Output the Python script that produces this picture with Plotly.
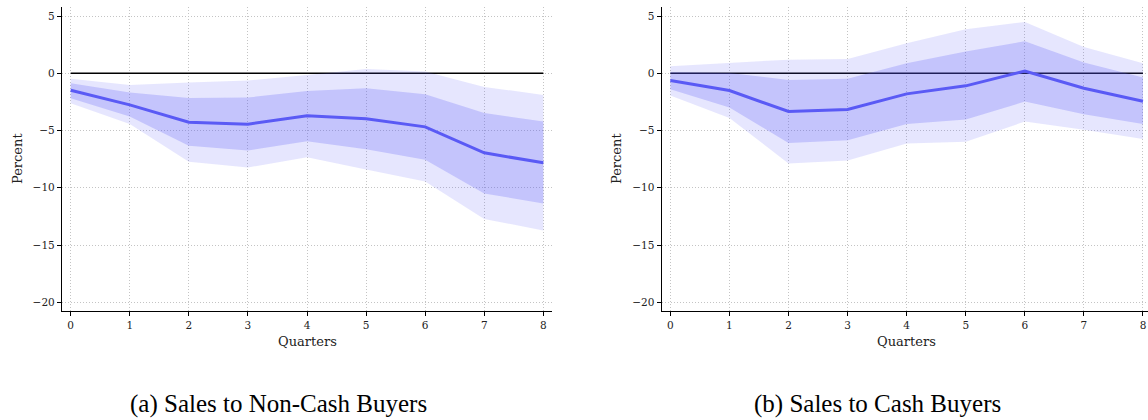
import plotly.graph_objects as go

quarters = [0, 1, 2, 3, 4, 5, 6, 7, 8]

# Panel (a): Sales to Non-Cash Buyers
a_mid = [-1.48, -2.76, -4.27, -4.45, -3.72, -3.98, -4.68, -6.95, -7.82]
a_in_hi = [-0.87, -1.69, -2.15, -2.12, -1.54, -1.31, -1.83, -3.46, -4.22]
a_in_lo = [-2.18, -3.78, -6.34, -6.74, -5.93, -6.63, -7.56, -10.49, -11.37]
a_out_hi = [-0.49, -1.02, -0.81, -0.64, -0.15, 0.38, 0.15, -1.19, -1.89]
a_out_lo = [-2.62, -4.42, -7.73, -8.23, -7.33, -8.40, -9.45, -12.73, -13.72]

# Panel (b): Sales to Cash Buyers
b_mid = [-0.64, -1.51, -3.34, -3.17, -1.80, -1.10, 0.20, -1.31, -2.44]
b_in_hi = [0.12, 0.03, -0.58, -0.47, 0.87, 1.89, 2.79, 0.93, -0.38]
b_in_lo = [-1.40, -2.99, -6.10, -5.84, -4.42, -4.04, -2.47, -3.58, -4.42]
b_out_hi = [0.61, 0.87, 1.19, 1.25, 2.62, 3.84, 4.48, 2.30, 0.87]
b_out_lo = [-1.95, -3.90, -7.88, -7.62, -6.13, -5.99, -4.22, -4.94, -5.73]

y_ticks = [5, 0, -5, -10, -15, -20]
captions = ["(a) Sales to Non-Cash Buyers", "(b) Sales to Cash Buyers"]

OUTER = "rgba(90,90,245,0.15)"
INNER = "rgba(90,90,245,0.245)"
LINE = "rgb(90,90,245)"
FONT = "DejaVu Serif"

fig = go.Figure()

panels = [
    (a_mid, a_in_hi, a_in_lo, a_out_hi, a_out_lo, "x", "y"),
    (b_mid, b_in_hi, b_in_lo, b_out_hi, b_out_lo, "x2", "y2"),
]

for mid, ihi, ilo, ohi, olo, xa, ya in panels:
    zero = [0 for _ in quarters]
    fig.add_trace(go.Scatter(x=quarters, y=zero, mode="lines",
                             line=dict(color="black", width=1.4),
                             xaxis=xa, yaxis=ya, showlegend=False, hoverinfo="skip"))
    # outer band
    fig.add_trace(go.Scatter(x=quarters + quarters[::-1], y=ohi + olo[::-1],
                             fill="toself", fillcolor=OUTER, mode="lines",
                             line=dict(width=0), xaxis=xa, yaxis=ya,
                             showlegend=False, hoverinfo="skip"))
    # inner band
    fig.add_trace(go.Scatter(x=quarters + quarters[::-1], y=ihi + ilo[::-1],
                             fill="toself", fillcolor=INNER, mode="lines",
                             line=dict(width=0), xaxis=xa, yaxis=ya,
                             showlegend=False, hoverinfo="skip"))
    fig.add_trace(go.Scatter(x=quarters, y=mid, mode="lines",
                             line=dict(color=LINE, width=3),
                             xaxis=xa, yaxis=ya, showlegend=False))

axis_common = dict(
    showline=True, linecolor="black", linewidth=1.3,
    ticks="outside", ticklen=4, tickcolor="black", tickwidth=1,
    showgrid=True, gridcolor="#c4c4c4", gridwidth=1, griddash="1px,2px",
    zeroline=False, tickfont=dict(family=FONT, size=10.5, color="#222"),
)

fig.update_layout(
    width=1148, height=420,
    margin=dict(l=0, r=0, t=0, b=0),
    paper_bgcolor="white", plot_bgcolor="white",
    xaxis=dict(domain=[62 / 1148, 552.3 / 1148], range=[-0.147, 8.152],
               tickvals=quarters, anchor="y", **axis_common),
    yaxis=dict(domain=[1 - 311 / 420, 1 - 7.3 / 420], range=[-20.76, 5.76],
               tickvals=y_ticks, anchor="x", **axis_common),
    xaxis2=dict(domain=[661.7 / 1148, 1.0], range=[-0.147, 8.085],
                tickvals=quarters, anchor="y2", **axis_common),
    yaxis2=dict(domain=[1 - 311 / 420, 1 - 7.3 / 420], range=[-20.76, 5.76],
                tickvals=y_ticks, anchor="x2", **axis_common),
)

ann_font = dict(family=FONT, size=13, color="#222")
for xc, px in [((62 + 552.3) / 2 / 1148, 17 / 1148), ((661.7 + 1151.9) / 2 / 1148, 616 / 1148)]:
    fig.add_annotation(x=xc, y=1 - 341.7 / 420, xref="paper", yref="paper",
                       text="Quarters", showarrow=False, font=ann_font,
                       xanchor="center", yanchor="middle")
    fig.add_annotation(x=px, y=1 - 159 / 420, xref="paper", yref="paper",
                       text="Percent", showarrow=False, font=ann_font, textangle=-90,
                       xanchor="center", yanchor="middle")

for cx, cap in zip([278 / 1148, 877 / 1148], captions):
    fig.add_annotation(x=cx, y=1 - 404 / 420, xref="paper", yref="paper",
                       text=cap, showarrow=False,
                       font=dict(family="Liberation Serif", size=25, color="black"),
                       xanchor="center", yanchor="middle")

fig.write_html("out.html")
